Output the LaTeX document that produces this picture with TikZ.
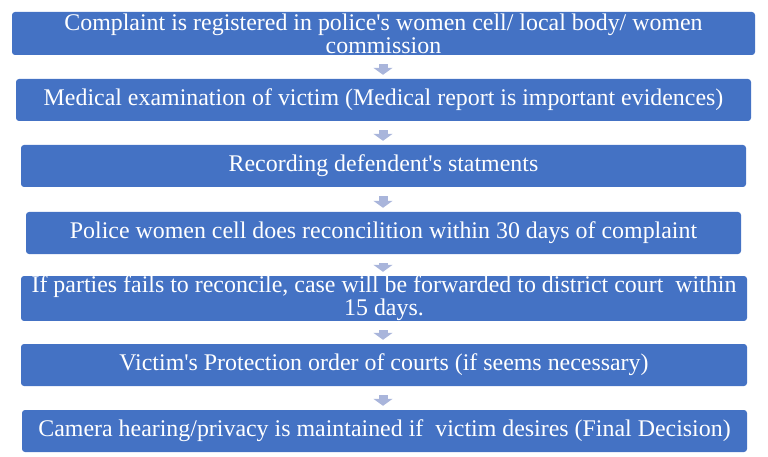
\documentclass[tikz,border=0pt]{standalone}
\usepackage{fontspec}
\setmainfont{Liberation Serif}
\usetikzlibrary{arrows.meta}
\definecolor{boxblue}{HTML}{4472C4}
\definecolor{arrowc}{HTML}{A9B5DB}
\newcommand{\apo}{\textquotesingle}
\begin{document}
\begin{tikzpicture}[x=1pt,y=1pt,
  stepbox/.style={fill=boxblue, draw=none, rounded corners=3pt, text=white, align=center,
    inner sep=0pt, font=\fontsize{23.9}{23}\selectfont},
  flow/.style={draw=arrowc, line width=9pt, -{Triangle[width=19pt,length=7pt]}, shorten <=9pt, shorten >=4pt}]
\useasboundingbox (0,0) rectangle (768,-457);
\node[stepbox, minimum width=743pt, minimum height=43pt] (b1) at (383.5,-33.5)
  {Complaint is registered in police\apo s women cell/ local body/ women\\commission};
\node[stepbox, minimum width=735pt, minimum height=42pt] (b2) at (383.5,-100)
  {Medical examination of victim (Medical report is important evidences)};
\node[stepbox, minimum width=725pt, minimum height=42pt] (b3) at (383.5,-166)
  {Recording defendent\apo s statments};
\node[stepbox, minimum width=715pt, minimum height=42pt] (b4) at (383.5,-233)
  {Police women cell does reconcilition within 30 days of complaint};
\node[stepbox, minimum width=726pt, minimum height=43pt] (b5) at (384,-298.5)
  {If parties fails to reconcile, case will be forwarded to district court\ \ within\\15 days.};
\node[stepbox, minimum width=726pt, minimum height=42pt] (b6) at (384,-365)
  {Victim\apo s Protection order of courts (if seems necessary)};
\node[stepbox, minimum width=725pt, minimum height=42pt] (b7) at (384.5,-431)
  {Camera hearing/privacy is maintained if\ \ victim desires (Final Decision)};
\foreach \a/\b in {b1/b2,b2/b3,b3/b4,b4/b5,b5/b6,b6/b7}{
  \draw[flow] (\a.south -| 383,0) -- (\b.north -| 383,0);
}
\end{tikzpicture}
\end{document}
